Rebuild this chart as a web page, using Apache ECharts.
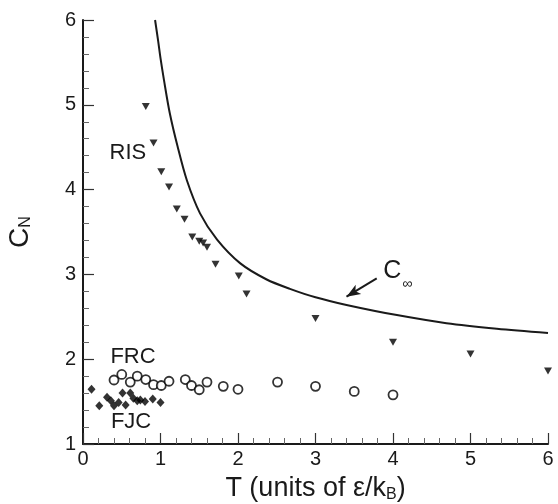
<!DOCTYPE html>
<html>
<head>
<meta charset="utf-8">
<script src="https://cdn.jsdelivr.net/npm/echarts@6/dist/echarts.min.js"></script>
<style>html,body{margin:0;padding:0;background:#fff}#c{width:558px;height:504px}</style>
</head>
<body>
<div id="c"></div>
<script>
// C_infinity curve
const curveT = [0.93, 0.97, 1.0, 1.045, 1.12, 1.22, 1.34, 1.51, 1.73, 2.03, 2.37, 2.67, 3.0, 3.4, 4.05, 4.69, 5.34, 6.0];
const curveC = [6.0, 5.75, 5.55, 5.29, 4.90, 4.51, 4.11, 3.72, 3.41, 3.13, 2.94, 2.83, 2.73, 2.64, 2.52, 2.425, 2.36, 2.31];
// RIS (down triangles)
const risT = [0.81, 0.91, 1.01, 1.11, 1.21, 1.31, 1.41, 1.50, 1.55, 1.60, 1.71, 2.01, 2.11, 3.0, 4.0, 5.0, 6.0];
const risC = [4.98, 4.55, 4.21, 4.03, 3.77, 3.65, 3.44, 3.39, 3.37, 3.32, 3.12, 2.98, 2.77, 2.48, 2.20, 2.06, 1.86];
// FRC (open circles)
const frcT = [0.40, 0.50, 0.61, 0.70, 0.81, 0.91, 1.01, 1.11, 1.32, 1.40, 1.50, 1.60, 1.81, 2.00, 2.51, 3.0, 3.5, 4.0];
const frcC = [1.755, 1.82, 1.73, 1.80, 1.76, 1.70, 1.69, 1.74, 1.76, 1.69, 1.64, 1.73, 1.68, 1.645, 1.73, 1.68, 1.62, 1.58];
// FJC (diamonds)
const fjcT = [0.11, 0.21, 0.31, 0.36, 0.40, 0.46, 0.51, 0.55, 0.61, 0.65, 0.70, 0.74, 0.80, 0.90, 1.00];
const fjcC = [1.645, 1.45, 1.55, 1.51, 1.45, 1.49, 1.60, 1.46, 1.60, 1.54, 1.51, 1.52, 1.50, 1.53, 1.49];
// tick settings
const xMin = 0, xMax = 6, xStep = 1;
const yMin = 1, yMax = 6, yStep = 1;
// annotations
const labels = [
  {text: 'RIS', x: 0.58, y: 4.43},
  {text: 'FRC', x: 0.645, y: 2.03},
  {text: 'FJC', x: 0.62, y: 1.26}
];
const cinfLabel = {x: 3.99, y: 3.04};
const arrowFrom = [3.79, 2.954], arrowTo = [3.40, 2.737];

const zip = (a, b) => a.map((v, i) => [v, b[i]]);
const FONT = '"Liberation Sans", Arial, sans-serif';
const ink = '#1a1a1a';

const chart = echarts.init(document.getElementById('c'), null, {renderer: 'canvas'});
const axisCommon = {
  axisLine: {show: true, onZero: false, lineStyle: {color: ink, width: 2}},
  axisTick: {show: true, inside: true, length: 11, lineStyle: {color: '#333', width: 1.2}},
  minorTick: {show: true, splitNumber: 5, length: 6, lineStyle: {color: '#666', width: 1}},
  splitLine: {show: false},
  axisLabel: {color: ink, fontSize: 20, fontFamily: FONT}
};
chart.setOption({
  animation: false,
  backgroundColor: '#fff',
  grid: {left: 83, right: 10, top: 20, bottom: 60, containLabel: false, outerBoundsMode: 'none'},
  xAxis: Object.assign({}, axisCommon, {
    type: 'value', min: xMin, max: xMax, interval: xStep,
    axisLabel: Object.assign({}, axisCommon.axisLabel, {margin: 5}),
    name: 'T (units of ε/k{s|B})', nameLocation: 'middle', nameGap: 26,
    nameTextStyle: {color: ink, fontSize: 27, fontFamily: FONT, lineHeight: 30,
      rich: {s: {fontSize: 16, fontFamily: FONT, color: ink, lineHeight: 30, padding: [12, 0, 0, 0]}}}
  }),
  yAxis: Object.assign({}, axisCommon, {
    type: 'value', min: yMin, max: yMax, interval: yStep,
    axisLabel: Object.assign({}, axisCommon.axisLabel, {margin: 7}),
    name: 'C{s|N}', nameLocation: 'middle', nameGap: 48, nameRotate: 90,
    nameTextStyle: {color: ink, fontSize: 28, fontFamily: FONT, lineHeight: 30,
      rich: {s: {fontSize: 16, fontFamily: FONT, color: ink, lineHeight: 30, padding: [12, 0, 0, 0]}}}
  }),
  series: [
    {type: 'line', data: zip(curveT, curveC), smooth: 0.3, showSymbol: false,
     lineStyle: {color: ink, width: 2}, z: 2,
     markLine: {silent: true, symbol: ['none', 'arrow'], symbolSize: [8, 14], label: {show: false},
       lineStyle: {color: ink, width: 2, type: 'solid'},
       data: [[{coord: arrowFrom}, {coord: arrowTo}]]}},
    {type: 'scatter', data: zip(risT, risC), symbol: 'triangle', symbolRotate: 180, symbolSize: [8, 7],
     itemStyle: {color: '#000'}},
    {type: 'scatter', data: zip(frcT, frcC), symbol: 'circle', symbolSize: 9,
     itemStyle: {color: '#fff', borderColor: '#000', borderWidth: 1.8}},
    {type: 'scatter', data: zip(fjcT, fjcC), symbol: 'diamond', symbolSize: [8, 9],
     itemStyle: {color: '#000'}}
  ]
});

const graphics = labels.map(l => {
  const p = chart.convertToPixel({gridIndex: 0}, [l.x, l.y]);
  return {type: 'text', x: p[0], y: p[1], style: {text: l.text, fill: ink, font: '22px ' + FONT, align: 'center', verticalAlign: 'middle'}};
});
const cp = chart.convertToPixel({gridIndex: 0}, [cinfLabel.x, cinfLabel.y]);
graphics.push({type: 'text', x: cp[0], y: cp[1], style: {text: 'C', fill: ink, font: '25px ' + FONT, align: 'center', verticalAlign: 'middle'}});
graphics.push({type: 'text', x: cp[0] + 10, y: cp[1] + 13, style: {text: '∞', fill: ink, font: '14px ' + FONT, align: 'left', verticalAlign: 'middle'}});
chart.setOption({graphic: graphics});
</script>
</body>
</html>
